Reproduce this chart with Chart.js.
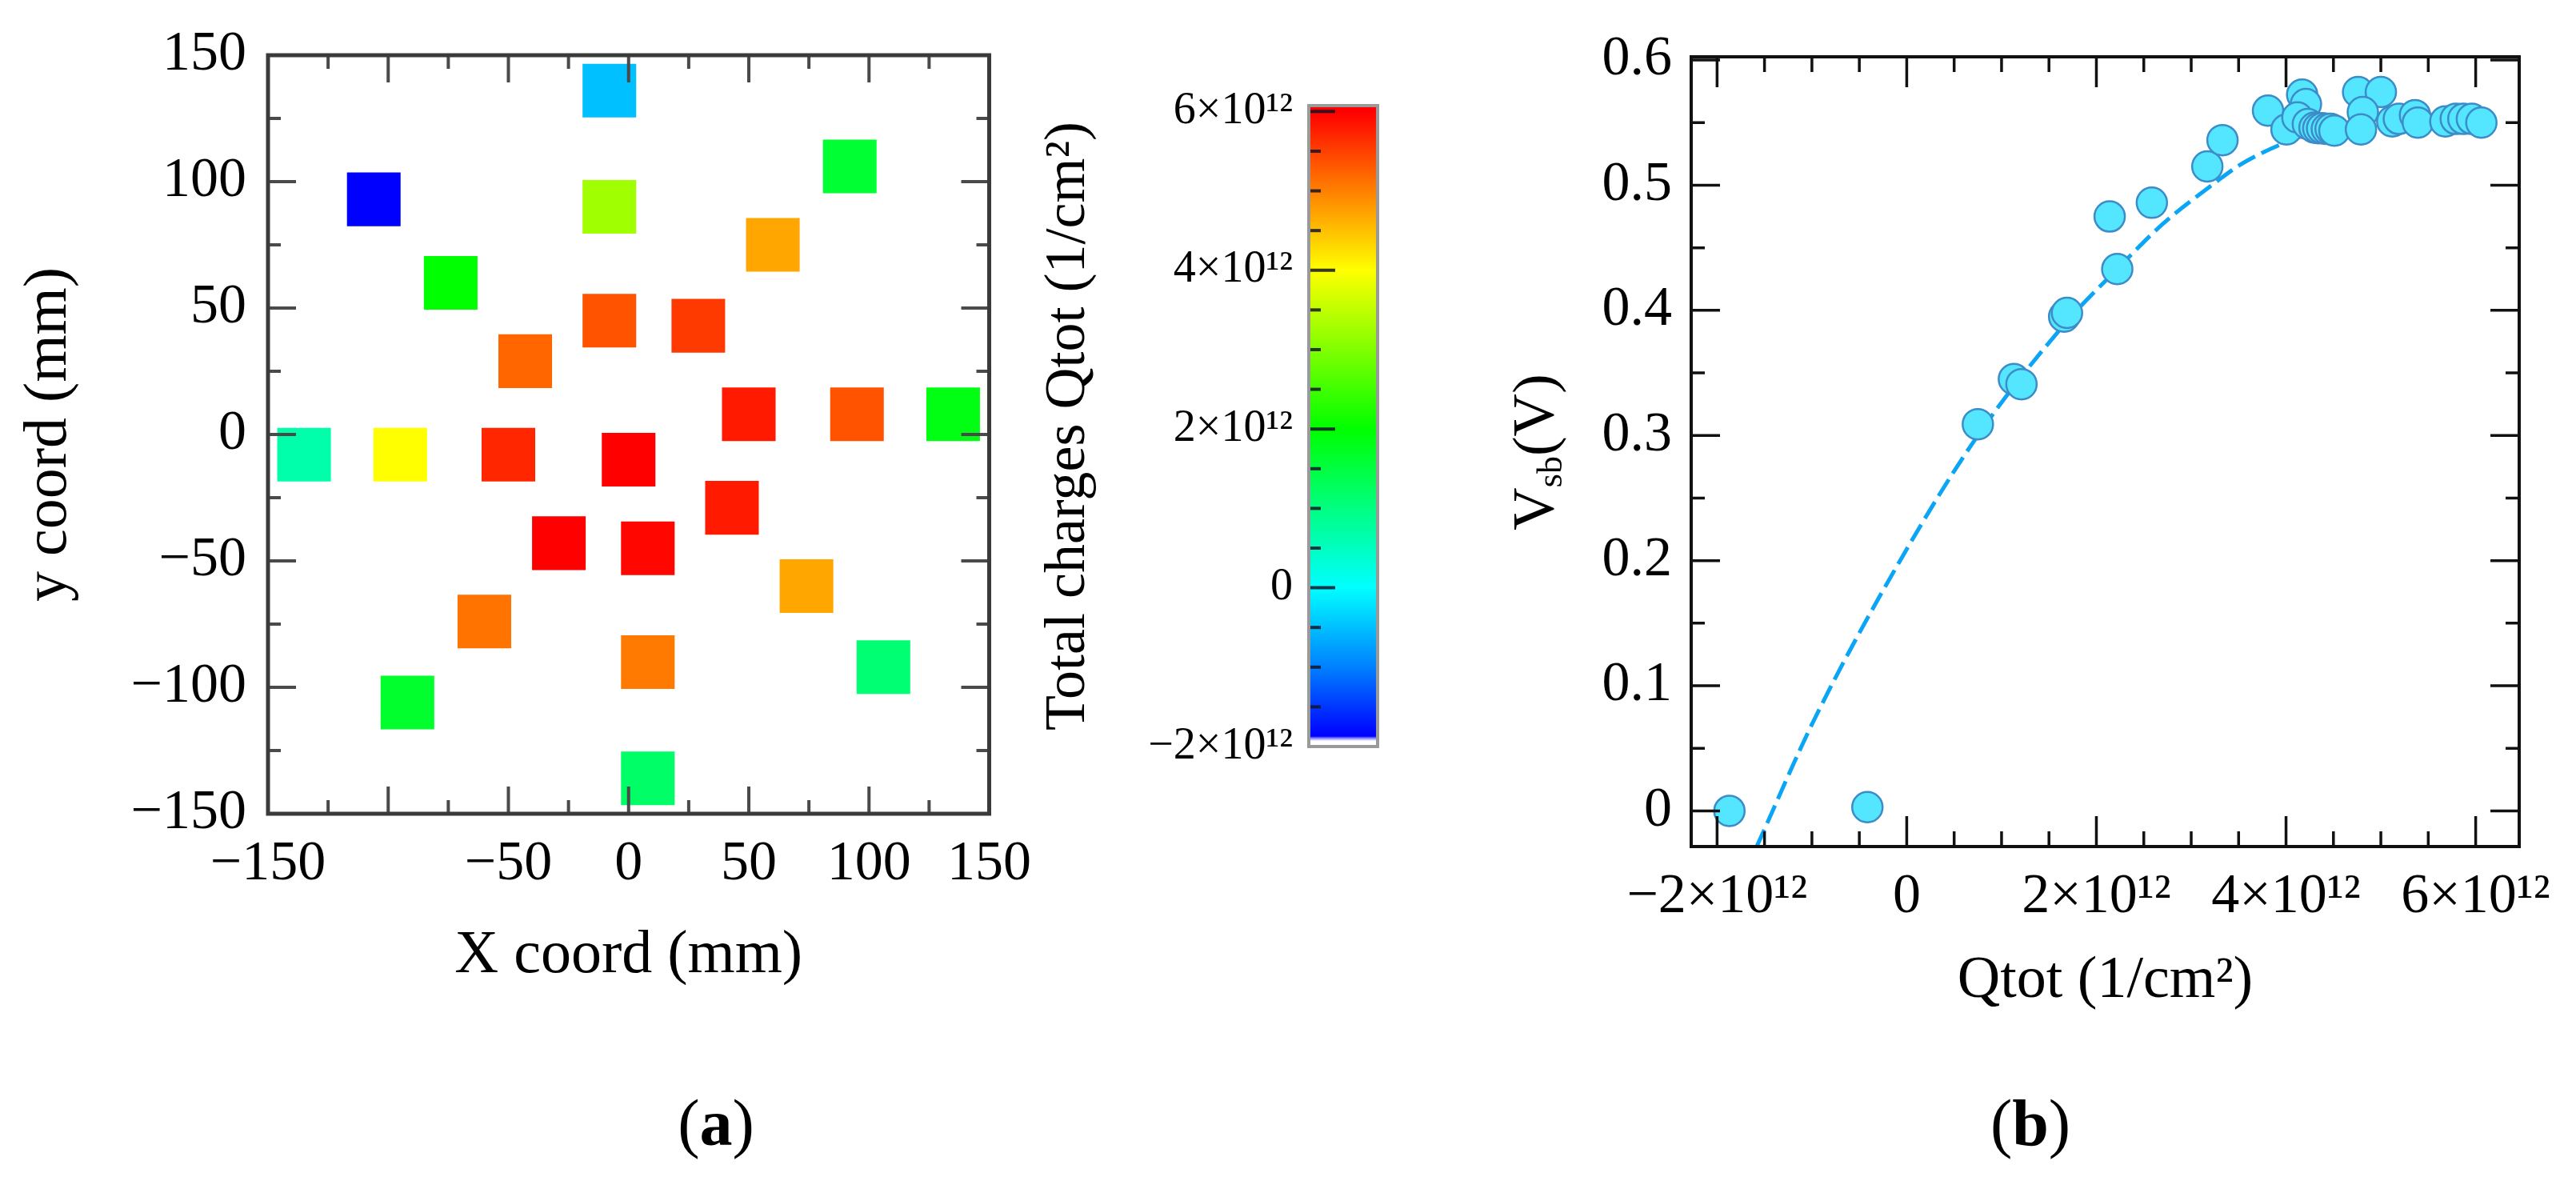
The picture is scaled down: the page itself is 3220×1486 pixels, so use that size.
<!DOCTYPE html>
<html>
<head>
<meta charset="utf-8">
<script src="https://cdn.jsdelivr.net/npm/chart.js@4.4.1/dist/chart.umd.min.js"></script>
<style>
html, body { margin: 0; padding: 0; background: #ffffff; width: 3220px; height: 1486px; overflow: hidden; }
canvas { position: absolute; top: 0; }
#cA { left: 0px; }
#cC { left: 1260px; }
#cB { left: 1790px; }
</style>
</head>
<body>
<canvas id="cA" width="1311" height="1486"></canvas>
<canvas id="cC" width="520" height="1000"></canvas>
<canvas id="cB" width="1470" height="1486"></canvas>
<script>
// ---------------- DATA ----------------
// (a) wafer map: square positions (mm) and total charge Qtot (1/cm^2)
const xCoord = [-8, -106, 92, -8, 60, -74, -8, 29, -43, 50, 95, 135, -135, -95, -50, 0, 43, -29, 8, 74, -60, 8, 106, -92, 8];
const yCoord = [136, 93, 106, 90, 75, 60, 45, 43, 29, 8, 8, 8, -8, -8, -8, -10, -29, -43, -45, -60, -74, -90, -92, -106, -136];
const qtot = [-0.5e12, -2.0e12, 1.6e12, 3.25e12, 4.7e12, 2.0e12, 5.35e12, 5.55e12, 5.2e12, 5.8e12, 5.35e12, 1.85e12, 0.67e12,
              4.0e12, 5.7e12, 6.0e12, 5.8e12, 6.0e12, 5.95e12, 4.7e12, 5.1e12, 5.05e12, 1.1e12, 1.65e12, 1.2e12];
const xTicksA = [-150, -50, 0, 50, 100, 150];
const yTicksA = [-150, -100, -50, 0, 50, 100, 150];
const cbarTicks = [-2e12, 0, 2e12, 4e12, 6e12];
const cbarMin = -2e12;
const cbarMax = 6.074e12;

// (b) Vsb versus Qtot
const qPoints = [-1.87e12, -0.415e12, 0.75e12, 1.13e12, 1.21e12, 1.66e12, 1.69e12, 2.14e12, 2.22e12, 2.585e12, 3.17e12, 3.33e12,
                 3.81e12, 4.005e12, 4.17e12, 4.21e12, 4.12e12, 4.23e12, 4.30e12, 4.34e12, 4.38e12, 4.43e12, 4.47e12, 4.51e12,
                 4.76e12, 5.00e12, 4.81e12, 4.79e12, 5.12e12, 5.19e12, 5.36e12, 5.39e12, 5.68e12, 5.79e12, 5.87e12, 5.96e12, 6.06e12];
const vPoints = [0.000, 0.003, 0.309, 0.345, 0.341, 0.395, 0.398, 0.475, 0.433, 0.486, 0.515, 0.536,
                 0.5596, 0.5446, 0.5724, 0.5649, 0.5542, 0.5489, 0.546, 0.5455, 0.5455, 0.545, 0.545, 0.5436,
                 0.5745, 0.5745, 0.5585, 0.5446, 0.551, 0.553, 0.556, 0.550, 0.551, 0.553, 0.553, 0.553, 0.550];
const qFit = [-1.585e12, -0.975e12, -0.07e12, 0.75e12, 1.7e12, 2.22e12, 2.7e12, 3.27e12, 3.51e12, 3.99e12, 4.6e12, 5.3e12, 6.05e12];
const vFit = [-0.029, 0.073, 0.2, 0.30, 0.392, 0.433, 0.469, 0.503, 0.516, 0.534, 0.549, 0.556, 0.556];
const xTicksB = [-2e12, 0, 2e12, 4e12, 6e12];
const yTicksB = [0, 0.1, 0.2, 0.3, 0.4, 0.5, 0.6];

// ---------------- STYLE ----------------
const FAM = "'Liberation Serif', 'Times New Roman', serif";
Chart.defaults.font.family = FAM;
Chart.defaults.color = '#000';

// jet colour map stops (value in units of 1e12 / cm^2)
const JET = [[-2, [0, 0, 255]], [-1, [0, 128, 255]], [0, [0, 255, 255]], [1, [0, 255, 128]], [2, [0, 255, 0]],
             [3, [128, 255, 0]], [4, [255, 255, 0]], [5, [255, 128, 0]], [6, [255, 0, 0]]];
function jetRGB(u) {
  if (u <= JET[0][0]) return JET[0][1];
  for (let i = 1; i < JET.length; i++) {
    if (u <= JET[i][0]) {
      const [v0, c0] = JET[i - 1], [v1, c1] = JET[i];
      const t = (u - v0) / (v1 - v0);
      return c0.map((c, k) => Math.round(c + (c1[k] - c) * t));
    }
  }
  return JET[JET.length - 1][1];
}
function jetColor(v) { const c = jetRGB(v / 1e12); return `rgb(${c[0]},${c[1]},${c[2]})`; }

function sciLabel(v) {
  if (v === 0) return '0';
  const m = v / 1e12;
  return (m < 0 ? '\u2212' : '') + Math.abs(m) + '\u00d710\u00b9\u00b2';
}
function intLabel(v) { return v < 0 ? '\u2212' + Math.abs(v) : String(v); }
function decLabel(v) { return v === 0 ? '0' : v.toFixed(1); }

// inward tick marks and frame drawn with the chart's own scales
const frameTicksPlugin = {
  id: 'frameTicks',
  afterDatasetsDraw(chart, args, o) {
    if (!o || !o.enabled) return;
    const ctx = chart.ctx, a = chart.chartArea;
    ctx.save();
    ctx.lineCap = 'butt';
    const axes = o.axes || [];
    axes.forEach(spec => {
      const scale = chart.scales[spec.id];
      ctx.strokeStyle = o.tickColor;
      ctx.lineWidth = o.tickWidth;
      const i0 = Math.ceil(scale.min / spec.step - 1e-9);
      const i1 = Math.floor(scale.max / spec.step + 1e-9);
      for (let i = i0; i <= i1; i++) {
        const v = i * spec.step;
        const major = ((i % spec.majorEvery) + spec.majorEvery) % spec.majorEvery === 0;
        const len = major ? spec.majorLen : spec.minorLen;
        const p = scale.getPixelForValue(v);
        ctx.beginPath();
        spec.sides.forEach(side => {
          if (side === 'bottom') { ctx.moveTo(p, a.bottom); ctx.lineTo(p, a.bottom - len); }
          if (side === 'top') { ctx.moveTo(p, a.top); ctx.lineTo(p, a.top + len); }
          if (side === 'left') { ctx.moveTo(a.left, p); ctx.lineTo(a.left + len, p); }
          if (side === 'right') { ctx.moveTo(a.right, p); ctx.lineTo(a.right - len, p); }
        });
        ctx.stroke();
      }
    });
    ctx.strokeStyle = o.frameColor;
    ctx.lineWidth = o.frameWidth;
    ctx.strokeRect(a.left, a.top, a.right - a.left, a.bottom - a.top);
    ctx.restore();
  }
};

// extra text runs (subscripts, bold panel letters)
function drawRuns(ctx, runs, x, y, rotation) {
  ctx.save();
  ctx.translate(x, y);
  ctx.rotate(rotation || 0);
  ctx.textBaseline = 'alphabetic';
  ctx.textAlign = 'left';
  ctx.fillStyle = '#000';
  let total = 0;
  const widths = runs.map(r => { ctx.font = r.font; const w = ctx.measureText(r.text).width; total += w; return w; });
  let cx = -total / 2;
  runs.forEach((r, i) => { ctx.font = r.font; ctx.fillText(r.text, cx, r.dy || 0); cx += widths[i]; });
  ctx.restore();
}
const textPlugin = {
  id: 'extraText',
  afterDraw(chart, args, o) {
    if (!o || !o.items) return;
    o.items.forEach(it => drawRuns(chart.ctx, it.runs, it.x, it.y, it.rotation));
  }
};

const common = { responsive: false, animation: false, devicePixelRatio: 1, events: [] };

// ---------------- (a) wafer map ----------------
new Chart(document.getElementById('cA'), {
  type: 'scatter',
  data: {
    datasets: [{
      label: 'Qtot',
      data: xCoord.map((x, i) => ({ x: x, y: yCoord[i] })),
      pointStyle: 'rect',
      pointRadius: 47.4,
      pointHoverRadius: 47.4,
      backgroundColor: qtot.map(jetColor),
      borderWidth: 0,
      clip: false
    }]
  },
  options: Object.assign({}, common, {
    layout: { padding: { left: 0, top: 47, right: 60, bottom: 0 } },
    plugins: {
      legend: { display: false }, tooltip: { enabled: false },
      frameTicks: {
        enabled: true, tickColor: '#4a4a4a', tickWidth: 4, frameColor: '#3a3a3a', frameWidth: 5,
        axes: [
          { id: 'x', step: 25, majorEvery: 2, majorLen: 34, minorLen: 17, sides: ['top', 'bottom'] },
          { id: 'y', step: 25, majorEvery: 2, majorLen: 35, minorLen: 16, sides: ['left', 'right'] }
        ]
      },
      extraText: {
        items: [{ x: 895, y: 1431, runs: [
          { text: '(', font: `82px ${FAM}` }, { text: 'a', font: `bold 82px ${FAM}` }, { text: ')', font: `82px ${FAM}` }] }]
      }
    },
    scales: {
      x: {
        type: 'linear', min: -150, max: 150,
        afterBuildTicks: s => { s.ticks = xTicksA.map(v => ({ value: v })); },
        afterFit: s => { s.height = 469; },
        ticks: { autoSkip: false, maxRotation: 0, padding: 22, font: { size: 70 }, color: '#000', callback: v => intLabel(v) },
        grid: { display: false, drawTicks: false }, border: { display: false },
        title: { display: true, text: 'X coord (mm)', font: { size: 76 }, color: '#000', padding: { top: 0, bottom: 245 } }
      },
      y: {
        type: 'linear', min: -150, max: 150,
        afterBuildTicks: s => { s.ticks = yTicksA.map(v => ({ value: v })); },
        afterFit: s => { s.width = 335; },
        ticks: { autoSkip: false, padding: 27, font: { size: 70 }, color: '#000', callback: v => intLabel(v) },
        grid: { display: false, drawTicks: false }, border: { display: false },
        title: { display: true, text: 'y coord (mm)', font: { size: 76 }, color: '#000', padding: { top: 16, bottom: 0 } }
      }
    }
  }),
  plugins: [frameTicksPlugin, textPlugin]
});

// ---------------- colour bar ----------------
function cbarGradient(chart) {
  const area = chart.chartArea;
  if (!area) return '#0000ff';
  const ys = chart.scales.y;
  const y0 = ys.getPixelForValue(cbarMin), y1 = ys.getPixelForValue(cbarMax);
  const g = chart.ctx.createLinearGradient(0, y0, 0, y1);
  const frac = u => Math.min(1, Math.max(0, (u * 1e12 - cbarMin) / (cbarMax - cbarMin)));
  g.addColorStop(0, '#ffffff');
  g.addColorStop(frac(-1.93), '#ffffff');
  g.addColorStop(frac(-1.89), 'rgb(110,110,255)');
  g.addColorStop(frac(-1.87), 'rgb(0,0,255)');
  JET.forEach(([u, c]) => { if (u > -1.87) g.addColorStop(frac(u), `rgb(${c[0]},${c[1]},${c[2]})`); });
  g.addColorStop(1, 'rgb(255,0,0)');
  return g;
}
new Chart(document.getElementById('cC'), {
  type: 'bar',
  data: {
    labels: ['Qtot'],
    datasets: [{ data: [[cbarMin, cbarMax]], backgroundColor: c => cbarGradient(c.chart), borderWidth: 0,
                 barPercentage: 1, categoryPercentage: 1 }]
  },
  options: Object.assign({}, common, {
    layout: { padding: { left: 0, top: 132, right: 58, bottom: 67 } },
    plugins: {
      legend: { display: false }, tooltip: { enabled: false },
      frameTicks: {
        enabled: true, tickColor: 'rgba(20,20,40,0.85)', tickWidth: 4, frameColor: '#9a9a9a', frameWidth: 4,
        axes: [{ id: 'y', step: 0.5e12, majorEvery: 4, majorLen: 33, minorLen: 15, sides: ['left'] }]
      }
    },
    scales: {
      x: { display: false },
      y: {
        type: 'linear', position: 'left', min: cbarMin, max: cbarMax,
        afterBuildTicks: s => { s.ticks = cbarTicks.map(v => ({ value: v })); },
        afterFit: s => { s.width = 376; },
        ticks: { autoSkip: false, padding: 20, font: { size: 56 }, color: '#000', callback: v => sciLabel(v) },
        grid: { display: false, drawTicks: false }, border: { display: false },
        title: { display: true, text: 'Total charges Qtot (1/cm\u00b2)', font: { size: 72 }, color: '#000', padding: { top: 33, bottom: 0 } }
      }
    }
  }),
  plugins: [frameTicksPlugin]
});

// ---------------- (b) Vsb vs Qtot ----------------
new Chart(document.getElementById('cB'), {
  type: 'scatter',
  data: {
    datasets: [
      {
        label: 'Vsb',
        data: qPoints.map((q, i) => ({ x: q, y: vPoints[i] })),
        pointStyle: 'circle', pointRadius: 19, pointHoverRadius: 19,
        backgroundColor: '#55e6ff', borderColor: '#3c8cc8', borderWidth: 2.5
      },
      {
        label: 'fit',
        type: 'line',
        data: qFit.map((q, i) => ({ x: q, y: vFit[i] })),
        showLine: true, pointRadius: 0, borderColor: '#0aa6f5', borderWidth: 5,
        borderDash: [24, 9], cubicInterpolationMode: 'monotone', fill: false
      }
    ]
  },
  options: Object.assign({}, common, {
    layout: { padding: { left: 0, top: 71, right: 111, bottom: 0 } },
    plugins: {
      legend: { display: false }, tooltip: { enabled: false },
      frameTicks: {
        enabled: true, tickColor: '#111', tickWidth: 3.5, frameColor: '#111', frameWidth: 4,
        axes: [
          { id: 'x', step: 0.5e12, majorEvery: 4, majorLen: 38, minorLen: 19, sides: ['top', 'bottom'] },
          { id: 'y', step: 0.05, majorEvery: 2, majorLen: 36, minorLen: 17, sides: ['left', 'right'] }
        ]
      },
      extraText: {
        items: [
          { x: 152, y: 565, rotation: -Math.PI / 2, runs: [
            { text: 'V', font: `74px ${FAM}` }, { text: 'sb', font: `44px ${FAM}`, dy: 10 }, { text: '(V)', font: `74px ${FAM}` }] },
          { x: 748, y: 1431, runs: [
            { text: '(', font: `82px ${FAM}` }, { text: 'b', font: `bold 82px ${FAM}` }, { text: ')', font: `82px ${FAM}` }] }
        ]
      }
    },
    scales: {
      x: {
        type: 'linear', min: -2.273e12, max: 6.459e12,
        afterBuildTicks: s => { s.ticks = xTicksB.map(v => ({ value: v })); },
        afterFit: s => { s.height = 428; },
        ticks: { autoSkip: false, maxRotation: 0, padding: 22, font: { size: 70 }, color: '#000', callback: v => sciLabel(v) },
        grid: { display: false, drawTicks: false }, border: { display: false },
        title: { display: true, text: 'Qtot (1/cm\u00b2)', font: { size: 74 }, color: '#000', padding: { top: 0, bottom: 215 } }
      },
      y: {
        type: 'linear', min: -0.0285, max: 0.6026,
        afterBuildTicks: s => { s.ticks = yTicksB.map(v => ({ value: v })); },
        afterFit: s => { s.width = 324; },
        ticks: { autoSkip: false, padding: 24, font: { size: 70 }, color: '#000', callback: v => decLabel(v) },
        grid: { display: false, drawTicks: false }, border: { display: false }
      }
    }
  }),
  plugins: [frameTicksPlugin, textPlugin]
});
</script>
</body>
</html>
